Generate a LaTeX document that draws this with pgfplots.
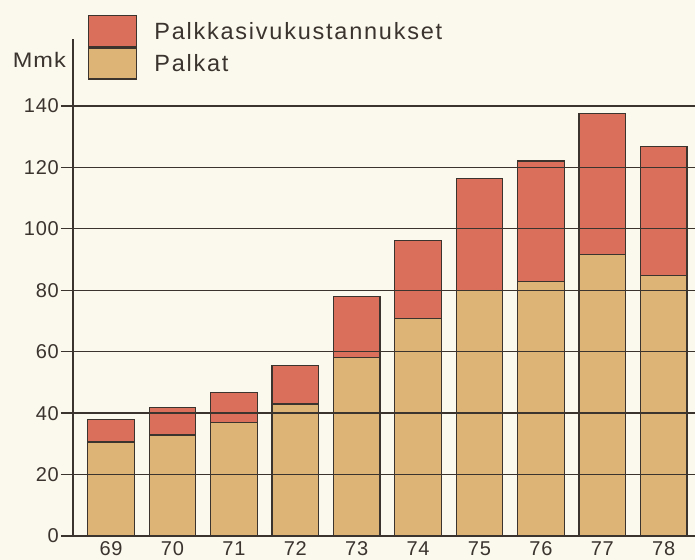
\documentclass[border=0pt]{standalone}
\usepackage{graphicx}
\usepackage{pgfplots}
\pgfplotsset{compat=1.18}
\usepackage{fontspec}
\setmainfont{Liberation Sans}[LetterSpace=4]
\newfontfamily\legfont{Liberation Sans}[LetterSpace=7.5]
\definecolor{bg}{HTML}{FBF9EE}
\definecolor{redc}{HTML}{DA6F5B}
\definecolor{tanc}{HTML}{DEB476}
\definecolor{lc}{HTML}{3A332E}
\begin{document}
\begin{tikzpicture}
\fill[bg] (0,0) rectangle (695bp,560bp);
\useasboundingbox (0,0) rectangle (695bp,560bp);
\begin{axis}[
  at={(73bp,24bp)}, anchor=south west,
  scale only axis, width=622bp, height=497bp,
  xmin=-0.62, xmax=9.51, ymin=0, ymax=161.8,
  axis x line=bottom, axis y line=left,
  axis line style={-, draw=lc, line width=1.3bp},
  axis on top,
  ybar stacked, bar width=46.5bp,
  xtick={0,1,2,3,4,5,6,7,8,9},
  xticklabels={69,70,71,72,73,74,75,76,77,78},
  xtick style={draw=none},
  xticklabel style={anchor=north, inner sep=0pt, yshift=6.5bp, font=\fontsize{20bp}{24bp}\selectfont, text=lc},
  ytick={0,20,40,60,80,100,120,140},
  ymajorgrids, grid style={draw=lc, line width=1.3bp},
  tick align=outside, major tick length=12bp,
  ytick style={draw=lc, line width=1.3bp},
  yticklabel style={inner sep=2bp, font=\fontsize{20bp}{24bp}\selectfont, text=lc},
  /pgf/number format/assume math mode=true,
  reverse legend,
  legend cell align=left,
  legend style={at={(0.0241,1.0483)}, anchor=north west, draw=none, fill=none,
    inner sep=0pt, row sep=0pt, column sep=17bp,
    nodes={inner sep=0pt, font=\legfont\fontsize{23.5bp}{28bp}\selectfont, text=lc}},
]
\addplot[fill=tanc, draw=lc, line width=1.2bp,
  legend image code/.code={\draw[fill=tanc, draw=lc, line width=1.2bp] (0bp,-15.5bp) rectangle (48bp,15.5bp);}]
  coordinates {(0,30.6)(1,32.9)(2,36.9)(3,43.0)(4,58.2)(5,70.7)(6,79.8)(7,82.9)(8,91.6)(9,84.7)};
\addlegendentry{Palkat}
\addplot[fill=redc, draw=lc, line width=1.2bp,
  legend image code/.code={\draw[fill=redc, draw=lc, line width=1.2bp] (0bp,-15.5bp) rectangle (48bp,15.5bp);}]
  coordinates {(0,7.4)(1,9.0)(2,9.8)(3,12.4)(4,19.7)(5,25.4)(6,36.6)(7,39.2)(8,46.0)(9,42.1)};
\addlegendentry{Palkkasivukustannukset}
\end{axis}
\node[anchor=base east, inner sep=0pt, text=lc] at (66bp,492.5bp) {\scalebox{1.12}[1]{\fontsize{21bp}{24bp}\selectfont Mmk}};
\end{tikzpicture}
\end{document}
